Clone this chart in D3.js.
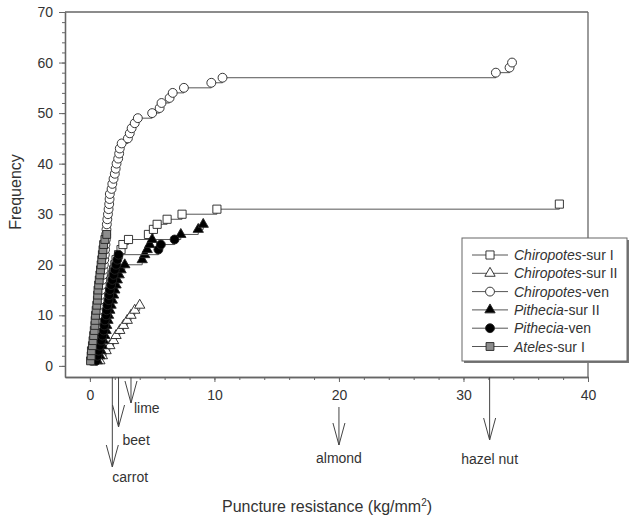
<!DOCTYPE html>
<html>
<head>
<meta charset="utf-8">
<script src="https://cdn.jsdelivr.net/npm/d3@7"></script>
<style>
  body { margin: 0; background: #fff; }
  svg text { font-family: "Liberation Sans", Arial, sans-serif; fill: #333; }
</style>
</head>
<body>
<svg id="chart" width="631" height="519"></svg>
<script>
// Puncture resistance (kg/mm2) of each item, sorted; frequency = rank
const chiropotesSurI = [0.3, 0.4, 0.5, 0.6, 0.7, 0.8, 0.9, 1.0, 1.05, 1.1, 1.2, 1.25, 1.3, 1.4, 1.5, 1.6,
  1.7, 1.8, 1.9, 2.0, 2.1, 2.3, 2.5, 2.65, 3.1, 4.7, 5.1, 5.4, 6.2, 7.4, 10.2, 37.7]
const chiropotesSurII = [0.8, 1.0, 1.3, 1.6, 1.9, 2.1, 2.4, 2.7, 3.0, 3.3, 3.6, 4.0]
const chiropotesVen = [0.2, 0.25, 0.3, 0.35, 0.4, 0.45, 0.5, 0.55, 0.6, 0.65, 0.7, 0.75, 0.8, 0.85, 0.9,
  0.95, 1.0, 1.05, 1.1, 1.12, 1.15, 1.2, 1.22, 1.25, 1.28, 1.3, 1.33, 1.36, 1.4, 1.45, 1.5, 1.55, 1.58,
  1.6, 1.74, 1.8, 1.9, 2.0, 2.07, 2.14, 2.27, 2.35, 2.4, 2.55, 3.05, 3.2, 3.35, 3.6, 3.85, 5.0, 5.6,
  5.75, 6.4, 6.65, 7.55, 9.75, 10.65, 32.6, 33.7, 33.9]
const pitheciaSurII = [0.6, 0.8, 0.9, 1.0, 1.1, 1.2, 1.3, 1.35, 1.45, 1.5, 1.6, 1.7, 1.8, 1.9, 2.0, 2.1,
  2.2, 2.35, 2.5, 2.8, 4.2, 4.4, 4.6, 4.8, 5.0, 7.3, 8.7, 9.1]
const pitheciaVen = [0.5, 0.6, 0.7, 0.8, 0.9, 1.0, 1.1, 1.15, 1.2, 1.3, 1.35, 1.4, 1.5, 1.55, 1.6, 1.7,
  1.8, 1.9, 2.0, 2.1, 2.2, 2.3, 5.5, 5.7, 6.8]
const atelesSurI = [0.05, 0.1, 0.12, 0.2, 0.25, 0.3, 0.35, 0.4, 0.42, 0.45, 0.5, 0.55, 0.6, 0.62, 0.65,
  0.7, 0.75, 0.8, 0.85, 0.9, 0.95, 1.0, 1.05, 1.1, 1.2, 1.35]

const xTicks = [0, 10, 20, 30, 40]
const yTicks = [0, 10, 20, 30, 40, 50, 60, 70]

// foods marked under the x axis
const foodNames = ['lime', 'beet', 'carrot', 'almond', 'hazel nut']
const foodValues = [3.3, 2.3, 1.8, 20, 32.1]

const series = [
  { genus: 'Chiropotes', rest: '-sur I', data: chiropotesSurI, shape: d3.symbolSquare, size: 66, fill: '#fff' },
  { genus: 'Chiropotes', rest: '-sur II', data: chiropotesSurII, shape: d3.symbolTriangle, size: 46, fill: '#fff' },
  { genus: 'Chiropotes', rest: '-ven', data: chiropotesVen, shape: d3.symbolCircle, size: 62, fill: '#fff' },
  { genus: 'Pithecia', rest: '-sur II', data: pitheciaSurII, shape: d3.symbolTriangle, size: 46, fill: '#000' },
  { genus: 'Pithecia', rest: '-ven', data: pitheciaVen, shape: d3.symbolCircle, size: 62, fill: '#000' },
  { genus: 'Ateles', rest: '-sur I', data: atelesSurI, shape: d3.symbolSquare, size: 62, fill: '#8c8c8c' },
]

const svg = d3.select('#chart')
const x = d3.scaleLinear().domain([-2, 40]).range([65, 588])
const y = d3.scaleLinear().domain([-2.2, 70]).range([377, 12])
const axisCol = '#666'

// frame (top + right)
svg.append('line').attr('x1', 65).attr('x2', 588).attr('y1', 12).attr('y2', 12)
  .attr('stroke', axisCol).attr('stroke-width', 1.3)
svg.append('line').attr('x1', 588).attr('x2', 588).attr('y1', 12).attr('y2', 377)
  .attr('stroke', axisCol).attr('stroke-width', 1.3)

// axes
const styleAxis = g => {
  g.selectAll('.domain').attr('stroke', axisCol).attr('stroke-width', 1.3)
  g.selectAll('.tick line').attr('stroke', axisCol)
}
svg.append('g').attr('transform', 'translate(0,377)')
  .call(d3.axisBottom(x).tickValues(d3.range(0, 41, 2)).tickSize(3).tickFormat('').tickSizeOuter(0))
  .call(styleAxis)
svg.append('g').attr('transform', 'translate(0,377)')
  .call(d3.axisBottom(x).tickValues(xTicks).tickSize(5).tickPadding(8).tickSizeOuter(0))
  .call(styleAxis)
  .call(g => g.selectAll('text').attr('font-size', 14).attr('fill', '#333'))
svg.append('g').attr('transform', 'translate(65,0)')
  .call(d3.axisLeft(y).tickValues(d3.range(0, 71, 2)).tickSize(3).tickFormat('').tickSizeOuter(0))
  .call(styleAxis)
svg.append('g').attr('transform', 'translate(65,0)')
  .call(d3.axisLeft(y).tickValues(yTicks).tickSize(6).tickPadding(6).tickSizeOuter(0))
  .call(styleAxis)
  .call(g => g.selectAll('text').attr('font-size', 14).attr('fill', '#333'))

// axis titles
svg.append('text').attr('x', 327).attr('y', 512).attr('text-anchor', 'middle')
  .attr('font-size', 16)
  .html('Puncture resistance (kg/mm<tspan dy="-6" font-size="10">2</tspan><tspan dy="6">)</tspan>')
svg.append('text').attr('transform', 'translate(21,192) rotate(-90)')
  .attr('text-anchor', 'middle').attr('font-size', 16).text('Frequency')

// cumulative step curves
const line = d3.line()
  .x(d => x(d[0])).y(d => y(d[1]))
  .curve(d3.curveStepAfter)

series.forEach(s => {
  const pts = s.data.map((v, i) => [v, i + 1])
  svg.append('path').datum(pts)
    .attr('d', line).attr('fill', 'none')
    .attr('stroke', '#555').attr('stroke-width', 1)
  svg.append('g').selectAll('path')
    .data(pts).join('path')
    .attr('transform', d => `translate(${x(d[0])},${y(d[1])})`)
    .attr('d', d3.symbol(s.shape, s.size))
    .attr('fill', s.fill)
    .attr('stroke', '#222').attr('stroke-width', 0.9)
})

// food arrows below axis
const arrowEnds = [403, 427, 467, 445, 440]
const arrowStarts = [377, 377, 377, 407, 377]
const labelPos = [
  { dx: 3, y: 413, anchor: 'start' },
  { dx: 4, y: 445, anchor: 'start' },
  { dx: 0, y: 482, anchor: 'start' },
  { dx: 0, y: 463, anchor: 'middle' },
  { dx: 0, y: 464, anchor: 'middle' },
]
foodNames.forEach((name, i) => {
  const fx = x(foodValues[i])
  const tip = arrowEnds[i]
  const g = svg.append('g').attr('stroke', '#444').attr('stroke-width', 1).attr('fill', 'none')
  g.append('line').attr('x1', fx).attr('x2', fx).attr('y1', arrowStarts[i]).attr('y2', tip)
  g.append('path').attr('d', `M${fx - 6},${tip - 22}L${fx},${tip}L${fx + 6},${tip - 22}`)
  svg.append('text').attr('x', fx + labelPos[i].dx).attr('y', labelPos[i].y)
    .attr('text-anchor', labelPos[i].anchor).attr('font-size', 14).text(name)
})

// legend
const lg = svg.append('g')
lg.append('rect').attr('x', 464).attr('y', 240).attr('width', 165).attr('height', 123)
  .attr('fill', '#777')
lg.append('rect').attr('x', 462).attr('y', 238).attr('width', 165).attr('height', 123)
  .attr('fill', '#fff').attr('stroke', '#666').attr('stroke-width', 1)
series.forEach((s, i) => {
  const ly = 255 + i * 18.3
  lg.append('line').attr('x1', 472).attr('x2', 508).attr('y1', ly).attr('y2', ly)
    .attr('stroke', '#555')
  lg.append('path').attr('transform', `translate(490,${ly})`)
    .attr('d', d3.symbol(s.shape, s.size)).attr('fill', s.fill)
    .attr('stroke', '#222').attr('stroke-width', 0.9)
  const t = lg.append('text').attr('x', 514).attr('y', ly + 5).attr('font-size', 14)
  t.append('tspan').attr('font-style', 'italic').text(s.genus)
  t.append('tspan').text(s.rest)
})
</script>
</body>
</html>
